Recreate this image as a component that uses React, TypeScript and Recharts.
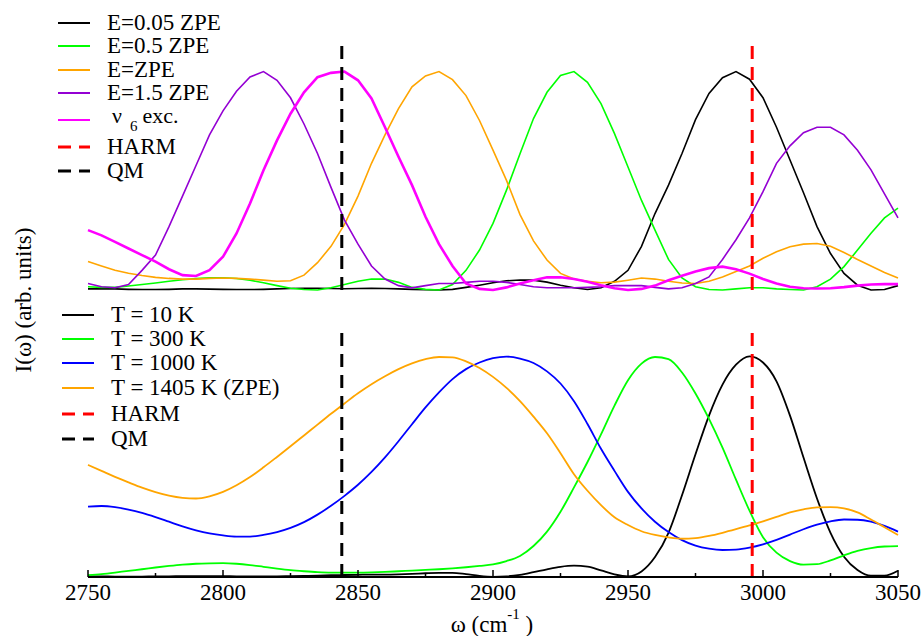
import { LineChart, Line, XAxis, YAxis, ReferenceLine } from "recharts";

// top panel: spectra at different excitation energies (5 cm-1 grid)
const FREQ_TOP = [
  2750, 2755, 2760, 2765, 2770, 2775, 2780, 2785, 2790, 2795,
  2800, 2805, 2810, 2815, 2820, 2825, 2830, 2835, 2840, 2845,
  2850, 2855, 2860, 2865, 2870, 2875, 2880, 2885, 2890, 2895,
  2900, 2905, 2910, 2915, 2920, 2925, 2930, 2935, 2940, 2945,
  2950, 2955, 2960, 2965, 2970, 2975, 2980, 2985, 2990, 2995,
  3000, 3005, 3010, 3015, 3020, 3025, 3030, 3035, 3040, 3045,
  3050,
];

const E005 = [
  0.005, 0.005, 0.005, 0.003, 0.002, 0.002, 0.003, 0.005, 0.005, 0.004,
  0.003, 0.002, 0.002, 0.003, 0.005, 0.007, 0.008, 0.008, 0.007, 0.006,
  0.007, 0.008, 0.007, 0.005, 0.003, 0.001, 0.0, 0.003, 0.012, 0.022,
  0.033, 0.042, 0.046, 0.045, 0.036, 0.022, 0.01, 0.002, 0.01, 0.04,
  0.09, 0.2, 0.35, 0.48, 0.625, 0.78, 0.9, 0.972, 1.0, 0.965,
  0.88, 0.745, 0.595, 0.445, 0.29, 0.167, 0.076, 0.022, 0.0, 0.002,
  0.02,
];

const E05 = [
  0.015, 0.012, 0.012, 0.018, 0.025, 0.032, 0.04, 0.047, 0.052, 0.056,
  0.056, 0.053, 0.045, 0.033, 0.02, 0.008, 0.002, 0.0, 0.01, 0.025,
  0.04, 0.05, 0.05, 0.035, 0.012, 0.003, 0.0, 0.025, 0.09, 0.183,
  0.305, 0.457, 0.624, 0.785, 0.905, 0.982, 1.0, 0.951, 0.853, 0.716,
  0.563, 0.41, 0.274, 0.14, 0.055, 0.015, 0.002, 0.0, 0.005, 0.01,
  0.01, 0.005, 0.002, 0.0, 0.015, 0.05, 0.107, 0.183, 0.26, 0.33,
  0.375,
];

const EZPE = [
  0.13, 0.11, 0.09, 0.077, 0.066, 0.058, 0.053, 0.05, 0.05, 0.053,
  0.055, 0.053, 0.05, 0.045, 0.04, 0.042, 0.068, 0.125, 0.2, 0.3,
  0.43, 0.58, 0.71, 0.83, 0.93, 0.98, 1.0, 0.963, 0.89, 0.776,
  0.64, 0.502, 0.345, 0.225, 0.137, 0.076, 0.05, 0.04, 0.033, 0.036,
  0.045, 0.055, 0.05, 0.04, 0.032, 0.03, 0.04, 0.06, 0.085, 0.11,
  0.145, 0.175, 0.198, 0.21, 0.213, 0.2, 0.172, 0.14, 0.11, 0.08,
  0.055,
];

const E15 = [
  0.03, 0.015, 0.01, 0.025, 0.09, 0.16, 0.29, 0.43, 0.57, 0.71,
  0.82, 0.91, 0.975, 1.0, 0.96, 0.88, 0.76, 0.625, 0.47, 0.32,
  0.21, 0.11, 0.05, 0.02, 0.01, 0.02, 0.03, 0.03, 0.035, 0.04,
  0.04, 0.035, 0.025, 0.015, 0.01, 0.01, 0.01, 0.012, 0.015, 0.02,
  0.02, 0.02, 0.012, 0.005, 0.01, 0.03, 0.06, 0.14, 0.23, 0.33,
  0.45, 0.58, 0.66, 0.72, 0.745, 0.745, 0.71, 0.64, 0.55, 0.44,
  0.33,
];

const NU6 = [
  0.274, 0.25, 0.22, 0.19, 0.16, 0.13, 0.095, 0.068, 0.064, 0.091,
  0.152, 0.259, 0.396, 0.548, 0.685, 0.807, 0.905, 0.974, 0.994, 1.0,
  0.96, 0.877, 0.745, 0.61, 0.48, 0.335, 0.21, 0.11, 0.03, 0.005,
  0.0, 0.012, 0.03, 0.045, 0.058, 0.058, 0.05, 0.038, 0.022, 0.008,
  0.0, 0.005, 0.02, 0.045, 0.065, 0.085, 0.1, 0.107, 0.095, 0.075,
  0.05, 0.03, 0.015, 0.008, 0.007, 0.008, 0.013, 0.02, 0.025, 0.027,
  0.027,
];

// bottom panel: spectra at different temperatures, same grid
const FREQ_BOT = FREQ_TOP;

const T10 = [
  0.003, 0.003, 0.002, 0.002, 0.002, 0.003, 0.003, 0.004, 0.004, 0.004,
  0.004, 0.003, 0.003, 0.003, 0.003, 0.004, 0.005, 0.006, 0.008, 0.009,
  0.01, 0.011, 0.011, 0.012, 0.014, 0.017, 0.019, 0.019, 0.013, 0.005,
  0.001, 0.003, 0.01, 0.022, 0.035, 0.046, 0.051, 0.047, 0.03, 0.012,
  0.003, 0.025, 0.09, 0.2, 0.37, 0.555, 0.73, 0.87, 0.96, 0.998,
  0.97, 0.885, 0.73, 0.54, 0.355, 0.2, 0.092, 0.032, 0.006, 0.006,
  0.028,
];

const T300 = [
  0.008, 0.013, 0.02, 0.028, 0.035, 0.043, 0.05, 0.056, 0.06, 0.062,
  0.063, 0.06, 0.054, 0.046, 0.038, 0.031, 0.026, 0.022, 0.02, 0.02,
  0.02, 0.021, 0.023, 0.026, 0.029, 0.032, 0.035, 0.039, 0.044, 0.05,
  0.057, 0.072, 0.095, 0.14, 0.205, 0.295, 0.405, 0.52, 0.645, 0.775,
  0.89, 0.965, 0.995, 0.985, 0.925, 0.83, 0.715, 0.585, 0.44, 0.3,
  0.18, 0.11, 0.072, 0.056, 0.058, 0.075, 0.098, 0.118, 0.131, 0.138,
  0.14,
];

const T1000 = [
  0.318, 0.321, 0.316, 0.305, 0.29, 0.271, 0.25, 0.229, 0.211, 0.197,
  0.188, 0.183, 0.183, 0.19, 0.203, 0.222, 0.248, 0.282, 0.322, 0.367,
  0.417, 0.475, 0.541, 0.614, 0.691, 0.767, 0.835, 0.895, 0.94, 0.97,
  0.99, 0.997, 0.988, 0.968, 0.93, 0.875, 0.795, 0.692, 0.58, 0.48,
  0.385, 0.31, 0.25, 0.203, 0.167, 0.142, 0.128, 0.122, 0.124, 0.133,
  0.148, 0.168, 0.192, 0.216, 0.237, 0.252, 0.26, 0.259, 0.25, 0.231,
  0.205,
];

const T1405 = [
  0.507, 0.48, 0.453, 0.428, 0.404, 0.384, 0.368, 0.358, 0.355, 0.365,
  0.385, 0.415, 0.452, 0.496, 0.543, 0.591, 0.64, 0.689, 0.738, 0.785,
  0.831, 0.872, 0.908, 0.94, 0.966, 0.985, 0.995, 0.993, 0.975, 0.945,
  0.905, 0.855, 0.795, 0.725, 0.65, 0.56, 0.465, 0.39, 0.325, 0.27,
  0.235, 0.207, 0.19, 0.179, 0.173, 0.176, 0.186, 0.2, 0.216, 0.233,
  0.252, 0.272, 0.292, 0.306, 0.315, 0.316, 0.31, 0.292, 0.26, 0.225,
  0.19,
];

const HARM_FREQ = 2996;
const QM_FREQ = 2844;

const TOP_LABELS = ["E=0.05 ZPE", "E=0.5 ZPE", "E=ZPE", "E=1.5 ZPE", "ν6 exc."];
const BOT_LABELS = ["T = 10 K", "T = 300 K", "T = 1000 K", "T = 1405 K (ZPE)"];
const REF_LABELS = ["HARM", "QM"];

const X_TICKS = [2750, 2775, 2800, 2825, 2850, 2875, 2900, 2925, 2950, 2975, 3000, 3025, 3050];
const X_LABELS = [2750, 2800, 2850, 2900, 2950, 3000, 3050];

const FONT = "'Liberation Serif', 'Times New Roman', Times, serif";
const FS = 23;
const Y_MAX = 1.117;

const TOP_COLORS = ["#000000", "#00ff00", "#ffa500", "#9400d3", "#ff00ff"];
const TOP_WIDTHS = [1.6, 1.6, 1.6, 1.6, 2.6];
const BOT_COLORS = ["#000000", "#00ff00", "#0000ff", "#ffa500"];
const REF_COLORS = ["#ff0000", "#000000"];

const TOP_SERIES = [E005, E05, EZPE, E15, NU6];
const BOT_SERIES = [T10, T300, T1000, T1405];

const topData = FREQ_TOP.map((w, i) => {
  const row: Record<string, number> = { w };
  TOP_SERIES.forEach((s, k) => (row["s" + k] = s[i]));
  return row;
});

const botData = FREQ_BOT.map((w, i) => {
  const row: Record<string, number> = { w };
  BOT_SERIES.forEach((s, k) => (row["s" + k] = s[i]));
  return row;
});

function AxisTick(props: any) {
  const { x, y, payload } = props;
  const major = X_LABELS.includes(payload.value);
  return (
    <g>
      <line x1={x} x2={x} y1={y} y2={y - (major ? 7 : 4)} stroke="#000" strokeWidth={1.5} />
      {major && (
        <text x={x} y={y + 23} textAnchor="middle" fontSize={FS} style={{ fontFamily: FONT }} fill="#000">
          {payload.value}
        </text>
      )}
    </g>
  );
}

function LegendLabel({ text, x, y }: { text: string; x: number; y: number }) {
  const m = text.match(/^ν(\d) (.*)$/);
  if (m) {
    return (
      <text x={x + 5} y={y + 3} fontSize={FS - 1} style={{ fontFamily: FONT }} fill="#000">
        ν
        <tspan dx={8} dy={8} fontSize={15}>{m[1]}</tspan>
        <tspan dx={5} dy={-8}>{m[2]}</tspan>
      </text>
    );
  }
  return (
    <text x={x} y={y + 7} fontSize={FS} style={{ fontFamily: FONT }} fill="#000">
      {text}
    </text>
  );
}

function LegendBlock({
  labels, colors, dashed, lineX, textX, rows,
}: {
  labels: string[]; colors: string[]; dashed: boolean[]; lineX: number; textX: number; rows: number[];
}) {
  return (
    <g>
      {labels.map((lab, i) => (
        <g key={lab}>
          <line
            x1={lineX}
            x2={lineX + 32}
            y1={rows[i]}
            y2={rows[i]}
            stroke={colors[i]}
            strokeWidth={dashed[i] ? 3 : 2}
            strokeDasharray={dashed[i] ? "13 8" : undefined}
          />
          <LegendLabel text={lab} x={textX} y={rows[i]} />
        </g>
      ))}
    </g>
  );
}

export default function App() {
  const topLabels = [...TOP_LABELS, ...REF_LABELS];
  const topColors = [...TOP_COLORS, ...REF_COLORS];
  const topDashed = topLabels.map((_, i) => i >= TOP_LABELS.length);
  const botLabels = [...BOT_LABELS, ...REF_LABELS];
  const botColors = [...BOT_COLORS, ...REF_COLORS];
  const botDashed = botLabels.map((_, i) => i >= BOT_LABELS.length);

  return (
    <div style={{ position: "absolute", left: 0, top: 0, width: 923, height: 636, background: "#fff" }}>
      <div style={{ position: "absolute", left: 0, top: 0 }}>
        <LineChart width={923} height={300} data={topData} margin={{ top: 46, right: 25, bottom: 10, left: 88 }}>
          <XAxis dataKey="w" type="number" domain={[2750, 3050]} hide />
          <YAxis type="number" domain={[0, Y_MAX]} hide />
          {TOP_COLORS.map((c, k) => (
            <Line
              key={k}
              type="linear"
              dataKey={"s" + k}
              stroke={c}
              strokeWidth={TOP_WIDTHS[k]}
              dot={false}
              activeDot={false}
              isAnimationActive={false}
            />
          ))}
          <ReferenceLine x={HARM_FREQ} stroke={REF_COLORS[0]} strokeWidth={3} strokeDasharray="13 8" />
          <ReferenceLine x={QM_FREQ} stroke={REF_COLORS[1]} strokeWidth={3} strokeDasharray="13 8" />
        </LineChart>
      </div>
      <div style={{ position: "absolute", left: 0, top: 300 }}>
        <LineChart width={923} height={336} data={botData} margin={{ top: 30, right: 25, bottom: 0, left: 88 }}>
          <XAxis
            dataKey="w"
            type="number"
            domain={[2750, 3050]}
            ticks={X_TICKS}
            interval={0}
            height={59}
            tickSize={0}
            tickMargin={0}
            tickLine={false}
            axisLine={{ stroke: "#000", strokeWidth: 2 }}
            tick={(p: any) => <AxisTick {...p} />}
          />
          <YAxis type="number" domain={[0, Y_MAX]} hide />
          {BOT_COLORS.map((c, k) => (
            <Line
              key={k}
              type="monotone"
              dataKey={"s" + k}
              stroke={c}
              strokeWidth={1.8}
              dot={false}
              activeDot={false}
              isAnimationActive={false}
            />
          ))}
          <ReferenceLine x={HARM_FREQ} stroke={REF_COLORS[0]} strokeWidth={3} strokeDasharray="13 8" />
          <ReferenceLine x={QM_FREQ} stroke={REF_COLORS[1]} strokeWidth={3} strokeDasharray="13 8" />
        </LineChart>
      </div>
      <svg
        width={923}
        height={636}
        style={{ position: "absolute", left: 0, top: 0, pointerEvents: "none" }}
      >
        <LegendBlock
          labels={topLabels}
          colors={topColors}
          dashed={topDashed}
          lineX={58}
          textX={107}
          rows={[23, 46, 70, 93, 120, 147, 171]}
        />
        <LegendBlock
          labels={botLabels}
          colors={botColors}
          dashed={botDashed}
          lineX={62}
          textX={111}
          rows={[315, 339, 363, 388, 414, 439]}
        />
        <text
          transform="translate(31,300) rotate(-90)"
          textAnchor="middle"
          fontSize={FS}
          style={{ fontFamily: FONT }}
          fill="#000"
        >
          I(ω) (arb. units)
        </text>
        <text x={492} y={632} textAnchor="middle" fontSize={FS} style={{ fontFamily: FONT }} fill="#000">
          ω (cm
          <tspan dy={-13} fontSize={15}>-1</tspan>
          <tspan dy={13}> )</tspan>
        </text>
      </svg>
    </div>
  );
}
